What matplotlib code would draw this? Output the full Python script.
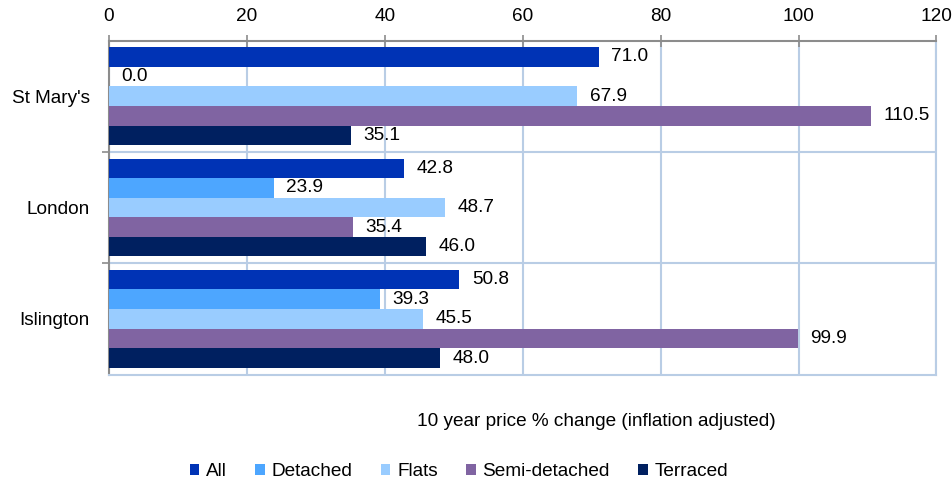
import numpy as np
import matplotlib.pyplot as plt
from matplotlib.ticker import MultipleLocator, FixedLocator

plt.rcParams['font.family'] = ['Liberation Sans', 'DejaVu Sans']

# ── Data ──────────────────────────────────────────────────────────────────────
areas = ["St Mary's", "London", "Islington"]
series = ["All", "Detached", "Flats", "Semi-detached", "Terraced"]
all_vals = [71.0, 42.8, 50.8]
detached_vals = [0.0, 23.9, 39.3]
flats_vals = [67.9, 48.7, 45.5]
semi_vals = [110.5, 35.4, 99.9]
terraced_vals = [35.1, 46.0, 48.0]

values = [all_vals, detached_vals, flats_vals, semi_vals, terraced_vals]
colors = ["#0033b5", "#4da6ff", "#99ccff", "#8064a2", "#002060"]

GRID = "#b9cde5"
SPINE = "#8c8c8c"
FS = 13.7

# ── Figure ────────────────────────────────────────────────────────────────────
fig = plt.figure(figsize=(9.53, 4.82), dpi=100)
ax = fig.add_axes([109 / 953, 1 - 374.5 / 482, (936.5 - 109) / 953, (374.5 - 40.5) / 482])

h = 0.176
y = np.arange(len(areas))
for j, (name, vals, col) in enumerate(zip(series, values, colors)):
    pos = y + (j - 2) * h
    bars = ax.barh(pos, vals, height=h, color=col, label=name, zorder=3)
    for b, v in zip(bars, vals):
        ax.annotate(f"{v:.1f}", xy=(v, b.get_y() + h / 2), xytext=(9, 0),
                    textcoords="offset points", va="center", ha="left",
                    fontsize=FS, color="black", zorder=4)

ax.set_xlim(0, 120)
ax.set_ylim(2.5, -0.5)

ax.xaxis.tick_top()
ax.xaxis.set_major_locator(MultipleLocator(20))
ax.tick_params(axis="x", direction="inout", length=8, width=1.2, color=SPINE,
               labelsize=FS, pad=7)
ax.grid(axis="x", color=GRID, linewidth=1.5, zorder=0)

ax.set_yticks(y)
ax.set_yticklabels(areas, fontsize=FS)
ax.tick_params(axis="y", which="major", length=0, pad=14)
ax.yaxis.set_minor_locator(FixedLocator([0.5, 1.5]))
ax.tick_params(axis="y", which="minor", direction="out", length=5, width=1.2, color=SPINE)
for yb in [0.5, 1.5]:
    ax.axhline(yb, color=GRID, linewidth=1.5, zorder=0)

ax.spines["top"].set_color(SPINE)
ax.spines["left"].set_color(SPINE)
ax.spines["top"].set_linewidth(1.5)
ax.spines["left"].set_linewidth(1.5)
ax.spines["right"].set_color(GRID)
ax.spines["bottom"].set_color(GRID)
ax.spines["right"].set_linewidth(1.5)
ax.spines["bottom"].set_linewidth(1.5)

fig.text(596 / 953, 1 - 421 / 482, "10 year price % change (inflation adjusted)",
         ha="center", va="center", fontsize=FS)

fig.legend(loc="center", bbox_to_anchor=(459 / 953, 1 - 472 / 482), ncol=5,
           frameon=False, fontsize=FS, handlelength=0.5, handleheight=0.5,
           handletextpad=0.35, columnspacing=1.5)

fig.savefig("out.png", dpi=100)
